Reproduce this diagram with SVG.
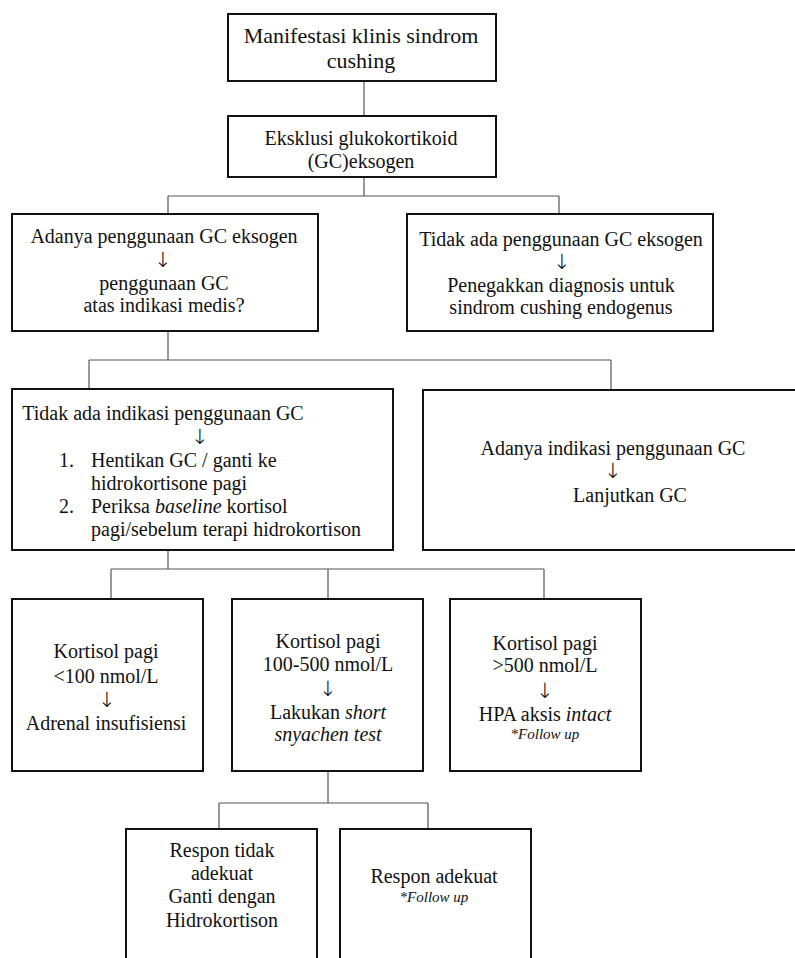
<svg xmlns="http://www.w3.org/2000/svg" width="795" height="958" viewBox="0 0 795 958">
<style>
.box{fill:#fff;stroke:#111;stroke-width:2}
.con{fill:none;stroke:#555;stroke-width:1.2}
text{font-family:"Liberation Serif","Times New Roman","DejaVu Serif",serif;font-size:20px;fill:#111}
.c{text-anchor:middle}
.big{font-size:22px}
.it{font-style:italic}
.sm{font-size:15px;font-style:italic}
.arr{font-family:"DejaVu Sans","Liberation Sans",sans-serif;font-size:21px;font-weight:200;fill:#000}
</style>
<rect width="795" height="958" fill="#fff"/>
<g id="connectors">
<path class="con" d="M364 81V116"/>
<path class="con" d="M364 177V196M168 196H559M168 196V214M559 196V214"/>
<path class="con" d="M168 331V360M89 360H611M89 360V389M611 360V390"/>
<path class="con" d="M168 550V569M111 569H544M111 569V599M328 569V599M544 569V599"/>
<path class="con" d="M328 771V803M219 803H428M219 803V829M428 803V829"/>
</g>
<g id="n1">
<rect class="box" x="228" y="14" width="268" height="67"/>
<text class="c big" x="361" y="43">Manifestasi klinis sindrom</text>
<text class="c big" x="361" y="68">cushing</text>
</g>
<g id="n2">
<rect class="box" x="228" y="116" width="268" height="61"/>
<text class="c" x="361" y="145">Eksklusi glukokortikoid</text>
<text class="c" x="361" y="168">(GC)eksogen</text>
</g>
<g id="n3">
<rect class="box" x="12" y="214" width="306" height="117"/>
<text class="c" x="164" y="243">Adanya penggunaan GC eksogen</text>
<text class="c arr" x="163" y="267">↓</text>
<text class="c" x="164" y="290">penggunaan GC</text>
<text class="c" x="164" y="312">atas indikasi medis?</text>
</g>
<g id="n4">
<rect class="box" x="407" y="214" width="306" height="117"/>
<text class="c" x="561" y="246">Tidak ada penggunaan GC eksogen</text>
<text class="c arr" x="562" y="269">↓</text>
<text class="c" x="561" y="292">Penegakkan diagnosis untuk</text>
<text class="c" x="561" y="314">sindrom cushing endogenus</text>
</g>
<g id="n5">
<rect class="box" x="12" y="389" width="381" height="161"/>
<text class="c" x="163" y="420">Tidak ada indikasi penggunaan GC</text>
<text class="c arr" x="200" y="444">↓</text>
<text x="59" y="467">1.</text>
<text x="91" y="467">Hentikan GC / ganti ke</text>
<text x="91" y="490">hidrokortisone pagi</text>
<text x="59" y="513">2.</text>
<text x="91" y="513">Periksa <tspan class="it">baseline</tspan> kortisol</text>
<text x="91" y="536">pagi/sebelum terapi hidrokortison</text>
</g>
<g id="n6">
<rect class="box" x="423" y="390" width="375" height="160"/>
<text class="c" x="613" y="455">Adanya indikasi penggunaan GC</text>
<text class="c arr" x="613" y="478">↓</text>
<text class="c" x="630" y="502">Lanjutkan GC</text>
</g>
<g id="n7">
<rect class="box" x="12" y="599" width="191" height="172"/>
<text class="c" x="106" y="658">Kortisol pagi</text>
<text class="c" x="106" y="683">&lt;100 nmol/L</text>
<text class="c arr" x="107" y="707">↓</text>
<text class="c" x="106" y="730">Adrenal insufisiensi</text>
</g>
<g id="n8">
<rect class="box" x="232" y="599" width="191" height="172"/>
<text class="c" x="328" y="648">Kortisol pagi</text>
<text class="c" x="328" y="671">100-500 nmol/L</text>
<text class="c arr" x="328" y="696">↓</text>
<text class="c" x="328" y="719">Lakukan <tspan class="it">short</tspan></text>
<text class="c it" x="328" y="741">snyachen test</text>
</g>
<g id="n9">
<rect class="box" x="450" y="599" width="191" height="172"/>
<text class="c" x="545" y="650">Kortisol pagi</text>
<text class="c" x="545" y="672">&gt;500 nmol/L</text>
<text class="c arr" x="545" y="698">↓</text>
<text class="c" x="545" y="721">HPA aksis <tspan class="it">intact</tspan></text>
<text class="c sm" x="545" y="739">*Follow up</text>
</g>
<g id="n10">
<rect class="box" x="126" y="829" width="191" height="140"/>
<text class="c" x="222" y="857">Respon tidak</text>
<text class="c" x="222" y="880">adekuat</text>
<text class="c" x="222" y="903">Ganti dengan</text>
<text class="c" x="222" y="927">Hidrokortison</text>
</g>
<g id="n11">
<rect class="box" x="340" y="829" width="191" height="140"/>
<text class="c" x="434" y="883">Respon adekuat</text>
<text class="c sm" x="434" y="902">*Follow up</text>
</g>
</svg>
